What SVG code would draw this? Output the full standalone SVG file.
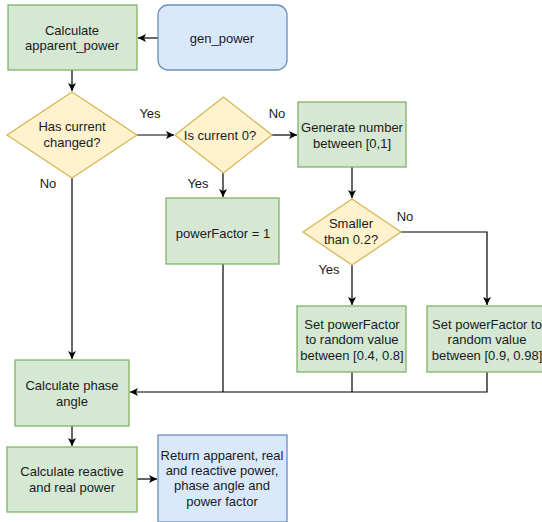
<svg xmlns="http://www.w3.org/2000/svg" width="542" height="522" viewBox="0 0 542 522">
<style>
.g{fill:#d5e8d4;stroke:#82b366;stroke-width:1.3}
.b{fill:#dae8fc;stroke:#6c8ebf;stroke-width:1.3}
.y{fill:#fff2cc;stroke:#d6b656;stroke-width:1.3}
text{font-family:"Liberation Sans",Arial,sans-serif;font-size:13px;fill:#1a1a1a;text-anchor:middle}
.c{fill:none;stroke:#000;stroke-width:1.2}
</style>
<defs>
<marker id="ah" markerWidth="10" markerHeight="10" refX="9" refY="5" orient="auto" markerUnits="userSpaceOnUse">
<path d="M1,1 L9,5 L1,9 L3,5 z" fill="#000"/>
</marker>
</defs>
<rect width="542" height="522" fill="#fff"/>
<g id="connectors">
<path class="c" d="M158,38 H138" marker-end="url(#ah)"/>
<path class="c" d="M72,70 V91" marker-end="url(#ah)"/>
<path class="c" d="M137,135 H174" marker-end="url(#ah)"/>
<path class="c" d="M272,135 H297" marker-end="url(#ah)"/>
<path class="c" d="M223,173 V197" marker-end="url(#ah)"/>
<path class="c" d="M352,167 V198" marker-end="url(#ah)"/>
<path class="c" d="M401,232 H487 V305" marker-end="url(#ah)"/>
<path class="c" d="M352,264 V305" marker-end="url(#ah)"/>
<path class="c" d="M72,178 V359" marker-end="url(#ah)"/>
<path class="c" d="M487,372 V392 H130" marker-end="url(#ah)"/>
<path class="c" d="M352,372 V392"/>
<path class="c" d="M223,264 V392"/>
<path class="c" d="M72,426 V446" marker-end="url(#ah)"/>
<path class="c" d="M137,479 H157" marker-end="url(#ah)"/>
</g>
<g id="lbl-yes1"><text x="150" y="117.5">Yes</text></g>
<g id="lbl-no1"><text x="277" y="117.5">No</text></g>
<g id="lbl-no2"><text x="48" y="187.5">No</text></g>
<g id="lbl-yes2"><text x="198" y="187.5">Yes</text></g>
<g id="lbl-no3"><text x="405" y="220.5">No</text></g>
<g id="lbl-yes3"><text x="329" y="273.5">Yes</text></g>
<g id="apparent">
<rect class="g" x="8" y="5" width="129" height="65"/>
<text x="72" y="34.5">Calculate</text>
<text x="72" y="49.5">apparent_power</text>
</g>
<g id="gen_power">
<rect class="b" x="158" y="5" width="129" height="65" rx="10" ry="10"/>
<text x="222" y="42.5">gen_power</text>
</g>
<g id="changed">
<path class="y" d="M72,92 L137,135 L72,178 L7,135 Z"/>
<text x="72" y="131">Has current</text>
<text x="72" y="146.5">changed?</text>
</g>
<g id="zero">
<path class="y" d="M223.5,97 L272,135 L223.5,173 L175,135 Z"/>
<text x="220" y="139.5">Is current 0?</text>
</g>
<g id="generate">
<rect class="g" x="298" y="102" width="108" height="65"/>
<text x="352" y="131.5">Generate number</text>
<text x="352" y="147.5">between [0,1]</text>
</g>
<g id="smaller">
<path class="y" d="M352,199 L401,232 L352,265 L303,232 Z"/>
<text x="351" y="227.5">Smaller</text>
<text x="351" y="243.5">than 0.2?</text>
</g>
<g id="pf1">
<rect class="g" x="166" y="198" width="113" height="66"/>
<text x="223" y="237.5">powerFactor = 1</text>
</g>
<g id="pf-low">
<rect class="g" x="297" y="306" width="109" height="66"/>
<text x="352" y="328.5">Set powerFactor</text>
<text x="352" y="344">to random value</text>
<text x="352" y="359.5">between [0.4, 0.8]</text>
</g>
<g id="pf-high">
<rect class="g" x="427" y="306" width="120" height="66"/>
<text x="487" y="328.5">Set powerFactor to</text>
<text x="487" y="344">random value</text>
<text x="487" y="359.5">between [0.9, 0.98]</text>
</g>
<g id="phase">
<rect class="g" x="15" y="360" width="114" height="66"/>
<text x="72" y="389.5">Calculate phase</text>
<text x="72" y="405.5">angle</text>
</g>
<g id="reactive">
<rect class="g" x="7" y="447" width="130" height="65"/>
<text x="72" y="475.5">Calculate reactive</text>
<text x="72" y="491.5">and real power</text>
</g>
<g id="return">
<rect class="b" x="158" y="435" width="129" height="87"/>
<text x="222" y="460">Return apparent, real</text>
<text x="222" y="475">and reactive power,</text>
<text x="222" y="490">phase angle and</text>
<text x="222" y="505.5">power factor</text>
</g>
</svg>
